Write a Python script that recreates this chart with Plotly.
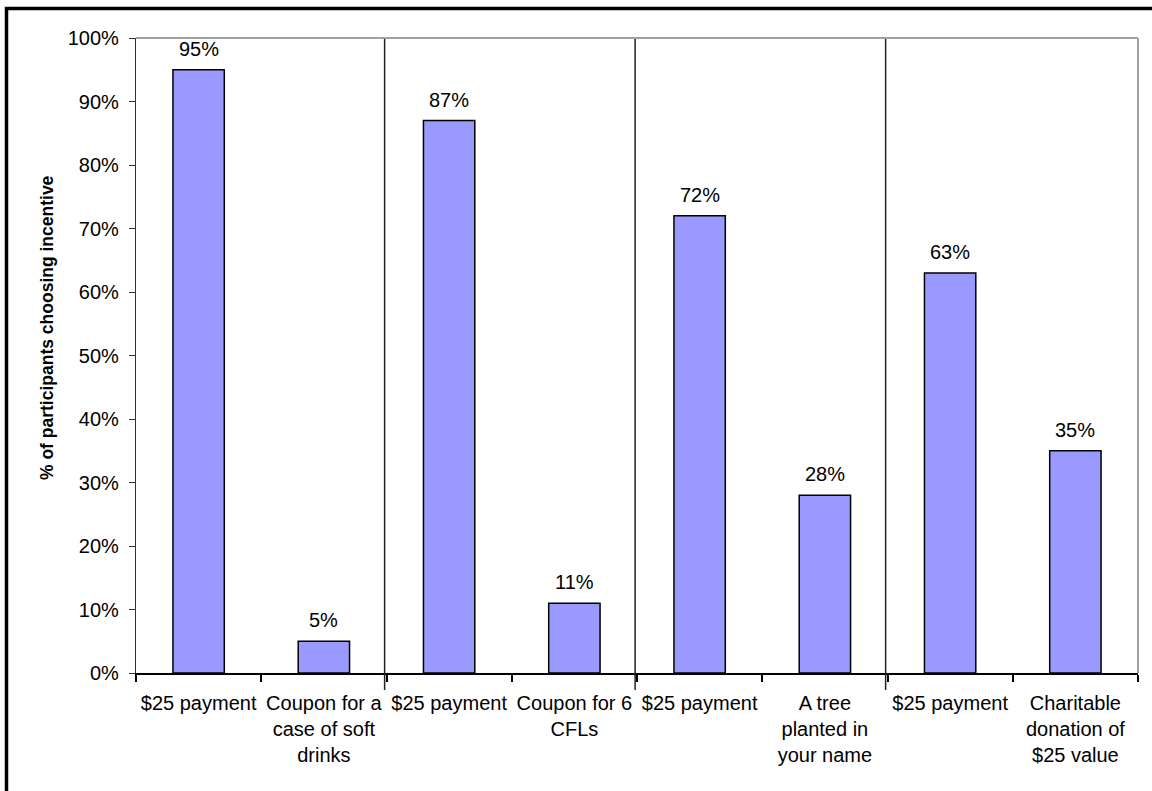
import plotly.graph_objects as go

# Incentive choices, in pairs: cash vs. alternative
labels = [
    "$25 payment",
    "Coupon for a<br>case of soft<br>drinks",
    "$25 payment",
    "Coupon for 6<br>CFLs",
    "$25 payment",
    "A tree<br>planted in<br>your name",
    "$25 payment",
    "Charitable<br>donation of<br>$25 value",
]
shares = [95, 5, 87, 11, 72, 28, 63, 35]  # % of participants choosing incentive
y_ticks = list(range(0, 101, 10))

positions = list(range(len(labels)))
font_family = "Liberation Sans, Arial, sans-serif"

W, H = 1152, 791
L, R, T, B = 136, 14, 38, 118
pw, ph = W - L - R, H - T - B


def px_x(px):
    return (px - L) / pw


def px_y(py):
    return (H - B - py) / ph


fig = go.Figure(
    go.Bar(
        x=positions,
        y=shares,
        width=0.41,
        marker=dict(color="#9999FF", line=dict(color="black", width=1.5)),
        hoverinfo="skip",
    )
)

# value labels above each bar
for xi, v in zip(positions, shares):
    fig.add_annotation(
        x=xi, y=v, text=f"{v}%", showarrow=False,
        yanchor="bottom", yshift=8,
        font=dict(family=font_family, size=20, color="black"),
    )

# y-axis title
fig.add_annotation(
    xref="paper", yref="paper", x=px_x(47), y=px_y(328),
    text="<b>% of participants choosing incentive</b>", textangle=-90,
    showarrow=False, xanchor="center", yanchor="middle",
    font=dict(family=font_family, size=17.5, color="black"),
)

shapes = []
# group separators
for b in [1.5, 3.5, 5.5]:
    shapes.append(dict(type="line", xref="x", yref="paper", x0=b - 0.015, x1=b - 0.015,
                       y0=px_y(690), y1=1, line=dict(color="#222222", width=1.5)))
# plot-area frame (top and right)
shapes.append(dict(type="line", xref="paper", yref="paper", x0=0, x1=1, y0=1, y1=1,
                   line=dict(color="#A0A0A0", width=2)))
shapes.append(dict(type="line", xref="paper", yref="paper", x0=1, x1=1, y0=0, y1=1,
                   line=dict(color="#A0A0A0", width=2)))
# outer chart border (top and left edges)
shapes.append(dict(type="path", xref="paper", yref="paper",
                   path=f"M {px_x(6.5)},{px_y(820)} L {px_x(6.5)},{px_y(8.5)} L {px_x(1180)},{px_y(8.5)}",
                   line=dict(color="black", width=3.5)))

fig.update_layout(
    width=W, height=H,
    margin=dict(l=L, r=R, t=T, b=B),
    paper_bgcolor="white", plot_bgcolor="white",
    showlegend=False,
    shapes=shapes,
    font=dict(family=font_family, size=20, color="black"),
    xaxis=dict(
        range=[-0.5, len(labels) - 0.5],
        tickvals=positions, ticktext=labels,
        ticks="", showgrid=False, zeroline=False,
        showline=True, linecolor="black", linewidth=1.5,
        tickfont=dict(family=font_family, size=20, color="black"),
        ticklabelstandoff=11,
        minor=dict(ticks="outside", tick0=-0.5, dtick=1, ticklen=7,
                   tickcolor="black", tickwidth=1.5, showgrid=False),
    ),
    yaxis=dict(
        range=[0, 100],
        tickvals=y_ticks, ticktext=[f"{t}%" for t in y_ticks],
        ticks="outside", ticklen=6, tickcolor="#333333", tickwidth=1.2,
        showgrid=False, zeroline=False,
        showline=True, linecolor="#333333", linewidth=1.2,
        tickfont=dict(family=font_family, size=20, color="black"),
        ticklabelstandoff=6,
    ),
)

fig.write_html("out.html")
